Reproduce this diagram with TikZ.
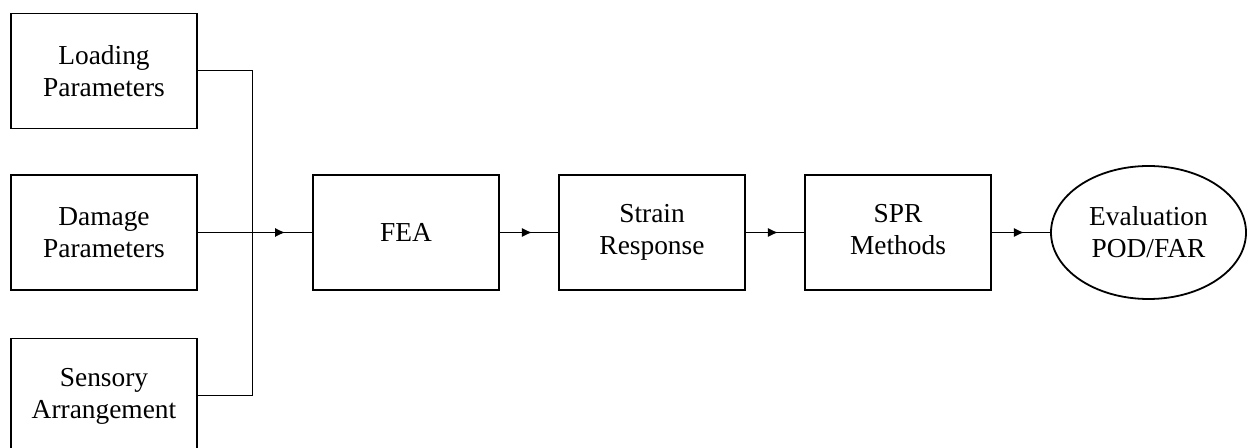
\documentclass[tikz,border=0pt]{standalone}
\usepackage{fontspec}
\setmainfont{Liberation Serif}
\usetikzlibrary{shapes.geometric,arrows.meta,decorations.markings}

\tikzset{
    blockbox/.style={draw,line width=0.9pt,minimum width=93pt,minimum height=57.5pt,align=center,inner sep=0pt},
    evalbox/.style={draw,ellipse,line width=0.9pt,minimum width=97.5pt,minimum height=66.5pt,align=center,inner sep=0pt},
    midarrow/.style={postaction={decorate},decoration={markings,
        mark=at position 0.55 with {\arrow{Latex[length=5pt,width=4.5pt]}}}}
}

\begin{document}
\begin{tikzpicture}[x=0.5pt,y=-0.5pt,line width=0.5pt,font=\fontsize{13.7}{16}\selectfont]
        \useasboundingbox (0,0) rectangle (1247,448);
        \clip (0,0) rectangle (1247,448);

        \node (Load)    at (104,71)      [blockbox] {Loading\\Parameters};
        \node (Damage)  at (104,232.5)   [blockbox] {Damage\\Parameters};
        \node (Sensor)  at (104,396)     [blockbox] {Sensory\\Arrangement};

        \node (FEA)     at (406,232.5)   [blockbox] {FEA};
        \node (Strain)  at (652,232.5)   [blockbox] {Strain\strut\\Response\strut};
        \node (SPR)     at (898,232.5)   [blockbox] {SPR\strut\\Methods\strut};
        \node (Eval)    at (1148.5,232.5) [evalbox] {Evaluation\\POD/FAR};

        % Input bus
        \coordinate (bus) at (252,232.5);
        \draw (Load.east) -| (bus);
        \draw (Sensor.east) -| (bus);
        \draw (Damage.east) -- (bus);

        % Main chain
        \draw[midarrow] (bus) -- (FEA.west);
        \draw[midarrow] (FEA.east) -- (Strain.west);
        \draw[midarrow] (Strain.east) -- (SPR.west);
        \draw[midarrow] (SPR.east) -- (Eval.west);
\end{tikzpicture}
\end{document}
